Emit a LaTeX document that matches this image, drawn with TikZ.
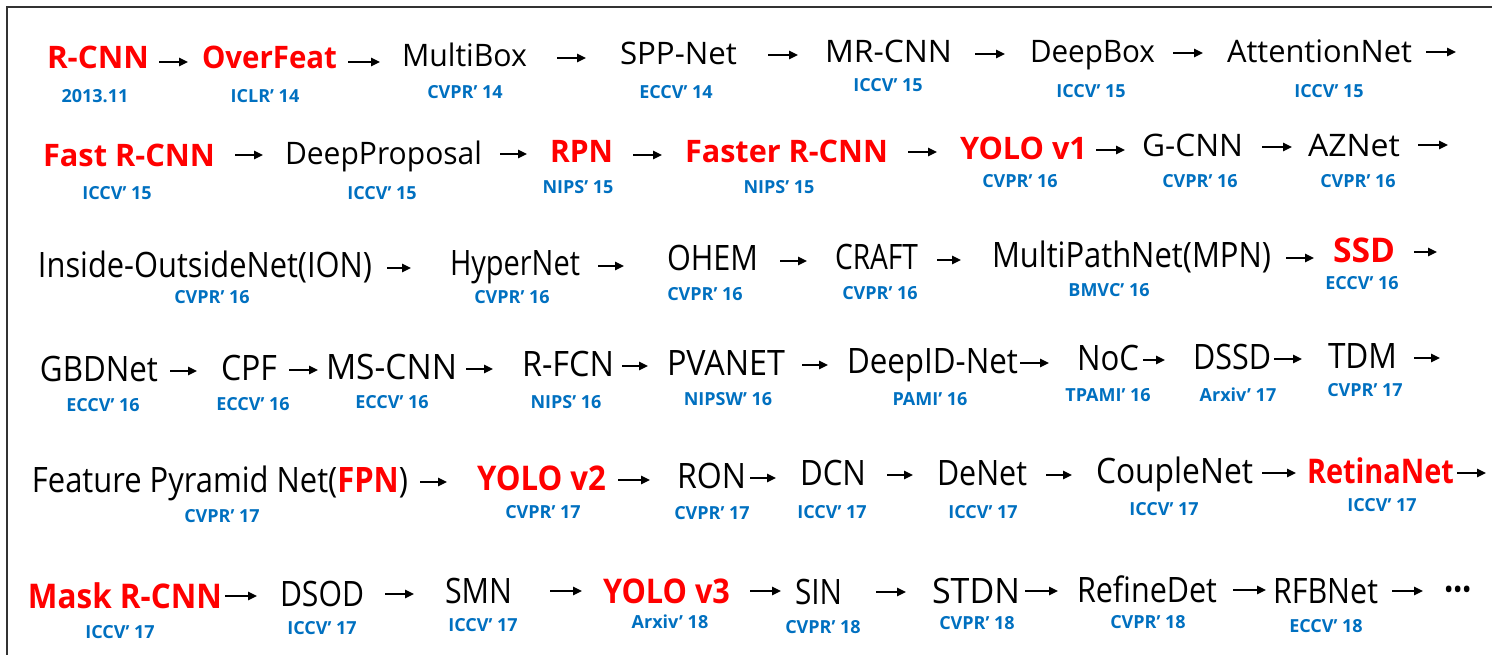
\documentclass[tikz,border=0pt]{standalone}
\usepackage{fontspec}
\setmainfont{Open Sans}
\usepackage{graphicx}
\usetikzlibrary{arrows.meta,calc}
\definecolor{venueblue}{HTML}{0070C0}
\definecolor{hotred}{HTML}{FF0000}
\definecolor{framegray}{HTML}{333333}

% set #2 squeezed or stretched horizontally to a width of #1 pt
\newsavebox\fitbox
\newcommand\fitw[2]{\sbox\fitbox{#2}\pgfmathsetmacro\fitratio{#1/\the\wd\fitbox}\scalebox{\fitratio}[1]{\usebox\fitbox}}

% arrow from node #1 to node #2, gaps #3/#4, raised #5 above #1's baseline
\newcommand\link[5]{\draw[arr] ($(#1.base east)+(#3,-#5)$) -- ($(#2.base west |- #1.base east)+(-#4,-#5)$);}
% arrow leaving node #1 towards coordinate #2
\newcommand\tail[4]{\draw[arr] ($(#1.base east)+(#3,-#4)$) -- ($(#2 |- #1.base east)+(0,-#4)$);}

\tikzset{
  lbl/.style={anchor=base, inner sep=0pt, outer sep=0pt},
  nm/.style={lbl, font=\fontsize{31}{31}\selectfont},
  nmL/.style={lbl, font=\fontsize{35}{35}\selectfont},
  hot/.style={lbl, text=hotred, font=\fontsize{31}{31}\selectfont\bfseries},
  hotL/.style={lbl, text=hotred, font=\fontsize{34}{34}\selectfont\bfseries},
  venue/.style={lbl, text=venueblue, font=\fontsize{18}{18}\selectfont\bfseries},
  arr/.style={line width=1.6pt, -{Triangle[length=9pt,width=8.5pt]}},
}

\begin{document}
\begin{tikzpicture}[x=1pt,y=-1pt]
\useasboundingbox (0,0) rectangle (1492,655);
\fill[white] (0,0) rectangle (1492,655);
\draw[framegray, line width=2.5pt] (7,655) -- (7,7) -- (1492,7);

% ---- row 1
\node[hot] (r1) at (98,69)     {\fitw{102}{R-CNN}};
\node[hot] (r2) at (269.5,69)  {\fitw{135}{OverFeat}};
\node[nm]  (r3) at (464.5,67)  {\fitw{125}{MultiBox}};
\node[nm]  (r4) at (678.5,65)  {\fitw{117}{SPP-Net}};
\node[nm]  (r5) at (888.5,63)  {\fitw{127}{MR-CNN}};
\node[nm]  (r6) at (1092.5,63) {\fitw{125}{DeepBox}};
\node[nm]  (r7) at (1319.5,63) {\fitw{185}{AttentionNet}};
\coordinate (e1) at (1456,0);
\link{r1}{r2}{10}{14}{7}
\link{r2}{r3}{11}{22}{7}
\link{r3}{r4}{30}{34}{9}
\link{r4}{r5}{31}{27}{10}
\link{r5}{r6}{23}{25}{9}
\link{r6}{r7}{18}{24}{10}
\tail{r7}{e1}{14}{11}
\node[venue] (q1) at (95,103)   {2013.11};
\node[venue] (q2) at (265,103)  {ICLR’ 14};
\node[venue] (q3) at (465,99)   {CVPR’ 14};
\node[venue] (q4) at (676,99)   {ECCV’ 14};
\node[venue] (q5) at (888,92)   {ICCV’ 15};
\node[venue] (q6) at (1091,98)  {ICCV’ 15};
\node[venue] (q7) at (1329,98)  {ICCV’ 15};

% ---- row 2
\node[hot] (s1) at (129,167)    {\fitw{172}{Fast R-CNN}};
\node[nm]  (s2) at (383.5,165)  {\fitw{197}{DeepProposal}};
\node[hot] (s3) at (581.5,163)  {\fitw{63}{RPN}};
\node[hot] (s4) at (786.5,163)  {\fitw{203}{Faster R-CNN}};
\node[hot] (s5) at (1023.5,160) {\fitw{127}{YOLO v1}};
\node[nm]  (s6) at (1192.5,157) {\fitw{101}{G-CNN}};
\node[nm]  (s7) at (1354,157)   {\fitw{92}{AZNet}};
\coordinate (e2) at (1448,0);
\link{s1}{s2}{20}{22}{12}
\link{s2}{s3}{18}{23}{11}
\link{s3}{s4}{20}{23}{8}
\link{s4}{s5}{20}{23}{11}
\link{s5}{s6}{9}{17}{10}
\link{s6}{s7}{19}{16}{10}
\tail{s7}{e2}{18}{12}
\node[venue] (p1) at (117,200)  {ICCV’ 15};
\node[venue] (p2) at (382,200)  {ICCV’ 15};
\node[venue] (p3) at (578,194)  {NIPS’ 15};
\node[venue] (p4) at (779,194)  {NIPS’ 15};
\node[venue] (p5) at (1020,188) {CVPR’ 16};
\node[venue] (p6) at (1200,188) {CVPR’ 16};
\node[venue] (p7) at (1358,188) {CVPR’ 16};

% ---- row 3
\node[nmL]  (t1) at (205,278)    {\fitw{334}{Inside-OutsideNet(ION)}};
\node[nmL]  (t2) at (515,276)    {\fitw{130}{HyperNet}};
\node[nmL]  (t3) at (712.5,271)  {\fitw{91}{OHEM}};
\node[nmL]  (t4) at (876.5,270)  {\fitw{83}{CRAFT}};
\node[nmL]  (t5) at (1131.5,268) {\fitw{279}{MultiPathNet(MPN)}};
\node[hotL] (t6) at (1364,262)   {\fitw{62}{SSD}};
\coordinate (e3) at (1437,0);
\link{t1}{t2}{15}{39}{10}
\link{t2}{t3}{18}{43}{10}
\link{t3}{t4}{22}{28}{10}
\link{t4}{t5}{19}{31}{10}
\link{t5}{t6}{15}{19}{10}
\tail{t6}{e3}{19}{10}
\node[venue] (o1) at (212,304)  {CVPR’ 16};
\node[venue] (o2) at (512,303)  {CVPR’ 16};
\node[venue] (o3) at (705,301)  {CVPR’ 16};
\node[venue] (o4) at (880,299)  {CVPR’ 16};
\node[venue] (o5) at (1109,296) {BMVC’ 16};
\node[venue] (o6) at (1362,290) {ECCV’ 16};

% ---- row 4
\node[nmL] (u1) at (99,381)     {\fitw{118}{GBDNet}};
\node[nmL] (u2) at (249,380)    {\fitw{56}{CPF}};
\node[nmL] (u3) at (391.5,379)  {\fitw{131}{MS-CNN}};
\node[nmL] (u4) at (568,376)    {\fitw{92}{R-FCN}};
\node[nmL] (u5) at (726,375)    {\fitw{118}{PVANET}};
\node[nmL] (u6) at (932.5,373)  {\fitw{171}{DeepID-Net}};
\node[nmL] (u7) at (1108,370)   {\fitw{62}{NoC}};
\node[nmL] (u8) at (1232,369)   {\fitw{78}{DSSD}};
\node[nmL] (u9) at (1362.5,368) {\fitw{69}{TDM}};
\coordinate (e4) at (1440,0);
\link{u1}{u2}{12}{24}{10}
\link{u2}{u3}{12}{8}{10}
\link{u3}{u4}{9}{29}{10}
\link{u4}{u5}{8}{19}{10}
\link{u5}{u6}{17}{19}{10}
\link{u6}{u7}{2}{28}{10}
\link{u7}{u8}{4}{28}{10}
\link{u8}{u9}{3}{26}{10}
\tail{u9}{e4}{17}{10}
\node[venue] (m1) at (103,411)  {ECCV’ 16};
\node[venue] (m2) at (253,410)  {ECCV’ 16};
\node[venue] (m3) at (392,408)  {ECCV’ 16};
\node[venue] (m4) at (566,408)  {NIPS’ 16};
\node[venue] (m5) at (728,405)  {NIPSW’ 16};
\node[venue] (m6) at (930,405)  {PAMI’ 16};
\node[venue] (m7) at (1108,401) {TPAMI’ 16};
\node[venue] (m8) at (1238,401) {Arxiv’ 17};
\node[venue] (m9) at (1365,396) {CVPR’ 17};

% ---- row 5
\node[nmL]  (v1) at (220,492)    {\fitw{376}{Feature Pyramid Net(\textcolor{hotred}{\bfseries FPN})}};
\node[hotL] (v2) at (541.5,490)  {\fitw{129}{YOLO v2}};
\node[nmL]  (v3) at (711.5,488)  {\fitw{69}{RON}};
\node[nmL]  (v4) at (833,485)    {\fitw{66}{DCN}};
\node[nmL]  (v5) at (982,485)    {\fitw{90}{DeNet}};
\node[nmL]  (v6) at (1174.5,483) {\fitw{157}{CoupleNet}};
\node[hotL] (v7) at (1380.5,483) {\fitw{147}{RetinaNet}};
\coordinate (e5) at (1486,0);
\link{v1}{v2}{12}{30}{10}
\link{v2}{v3}{12}{27}{10}
\link{v3}{v4}{4}{24}{10}
\link{v4}{v5}{21}{24}{10}
\link{v5}{v6}{19}{24}{10}
\link{v6}{v7}{9}{11}{10}
\tail{v7}{e5}{3}{10}
\node[venue] (k1) at (222,522)  {CVPR’ 17};
\node[venue] (k2) at (543,518)  {CVPR’ 17};
\node[venue] (k3) at (712,519)  {CVPR’ 17};
\node[venue] (k4) at (832,518)  {ICCV’ 17};
\node[venue] (k5) at (983,518)  {ICCV’ 17};
\node[venue] (k6) at (1164,515) {ICCV’ 17};
\node[venue] (k7) at (1382,511) {ICCV’ 17};

% ---- row 6
\node[hotL] (w1) at (125,608)    {\fitw{194}{Mask R-CNN}};
\node[nmL]  (w2) at (322,606)    {\fitw{84}{DSOD}};
\node[nmL]  (w3) at (478.5,603)  {\fitw{67}{SMN}};
\node[hotL] (w4) at (666.5,603)  {\fitw{127}{YOLO v3}};
\node[nmL]  (w5) at (818.5,604)  {\fitw{47}{SIN}};
\node[nmL]  (w6) at (976,603)    {\fitw{88}{STDN}};
\node[nmL]  (w7) at (1147,602)   {\fitw{140}{RefineDet}};
\node[nmL]  (w8) at (1325.5,603) {\fitw{105}{RFBNet}};
\node[nmL]  (w9) at (1458,603)   {\fitw{28}{\bfseries\fontsize{40}{40}\selectfont ···}};
\link{w1}{w2}{3}{23}{12}
\link{w2}{w3}{21}{31}{12}
\link{w3}{w4}{38}{21}{12}
\link{w4}{w5}{20}{14}{12}
\link{w5}{w6}{34}{26}{12}
\link{w6}{w7}{5}{19}{12}
\link{w7}{w8}{16}{7}{12}
\link{w8}{w9}{14}{21}{12}
\node[venue] (h1) at (120,638)  {ICCV’ 17};
\node[venue] (h2) at (322,634)  {ICCV’ 17};
\node[venue] (h3) at (483,631)  {ICCV’ 17};
\node[venue] (h4) at (670,628)  {Arxiv’ 18};
\node[venue] (h5) at (823,633)  {CVPR’ 18};
\node[venue] (h6) at (977,629)  {CVPR’ 18};
\node[venue] (h7) at (1148,628) {CVPR’ 18};
\node[venue] (h8) at (1326,632) {ECCV’ 18};
\end{tikzpicture}
\end{document}
